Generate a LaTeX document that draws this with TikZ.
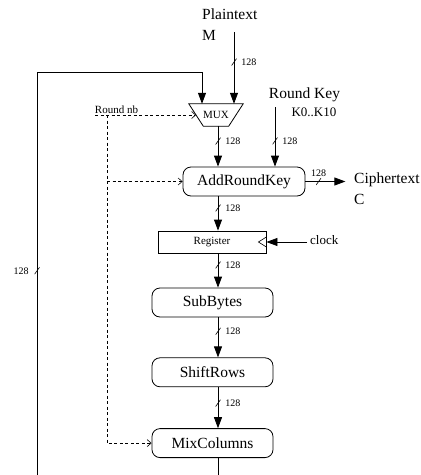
\documentclass[tikz,border=0pt]{standalone}
\usepackage{fontspec}
\setmainfont{Liberation Serif}
\usetikzlibrary{calc}
\usetikzlibrary{arrows.meta}
\usetikzlibrary{positioning}

\newcommand{\bigtxt}{\fontsize{15.5}{21.5}\selectfont}
\newcommand{\midtxt}{\fontsize{13}{15}\selectfont}
\newcommand{\smalltxt}{\fontsize{11}{13}\selectfont}
\newcommand{\tinytxt}{\fontsize{10}{12}\selectfont}

\tikzset{
  stage/.style={draw, rounded corners=8pt, line width=0.8pt, minimum width=121pt, minimum height=29pt, inner sep=0pt, font=\bigtxt},
  bus/.style={line width=0.8pt, -{Triangle[length=11pt,width=8pt]}},
  ctrl/.style={line width=0.6pt, dash pattern=on 3pt off 2.5pt, -{Straight Barb[length=4pt,width=7pt]}},
  tick/.style={inner sep=0pt, minimum width=5pt, minimum height=7pt,
    path picture={\draw[-, solid, line width=0.6pt] (path picture bounding box.south west) -- (path picture bounding box.north east);}},
  wlabel/.style={font=\tinytxt, inner sep=0pt},
}

\begin{document}
\begin{tikzpicture}[x=1pt, y=-1pt]
  \clip (0,0) rectangle (421,475);
  % texts at the ends
  \node[font=\bigtxt, align=left, anchor=north west, inner sep=0pt] (plain)  at (202,8.4)   {Plaintext\\M};
  \node[font=\bigtxt, anchor=base, inner sep=0pt]                   (rkey)   at (304.5,98.5) {Round Key};
  \node[font=\midtxt, anchor=base, inner sep=0pt]                   (kten)   at (314,116.5)  {K0..K10};
  \node[font=\bigtxt, align=left, anchor=north west, inner sep=0pt] (cipher) at (354,172.4) {Ciphertext\\C};
  \node[font=\smalltxt, anchor=base, inner sep=0pt]                 (rnb)    at (116.5,113.5) {Round nb};
  \node[font=\midtxt, anchor=base west, inner sep=0pt]              (clk)    at (310,244)    {clock};

  % blocks
  \node[minimum width=54pt, minimum height=22pt, inner sep=0pt, font=\smalltxt] (mux) at (216,115) {MUX};
  \draw[line width=0.8pt] (mux.north west) -- (mux.north east) -- ([xshift=-14.5pt]mux.south east)
       -- ([xshift=14.5pt]mux.south west) -- cycle;
  \node[stage, minimum width=122pt] (ark) at (244,181.5) {AddRoundKey};
  \node[draw, line width=0.8pt, minimum width=108pt, minimum height=22pt, inner sep=0pt, font=\smalltxt] (reg) at (212,242) {Register};
  \draw[line width=0.6pt] ([yshift=5pt]reg.east) -- ([xshift=-8pt]reg.east) -- ([yshift=-5pt]reg.east);
  \node[stage] (sub)   at (212.5,302.5)        {SubBytes};
  \node[stage] (shift) [below=40pt of sub]     {ShiftRows};
  \node[stage] (mix)   [below=41pt of shift]   {MixColumns};

  % helper points
  \coordinate (axis)    at (218,0);
  \coordinate (plainin) at (234,32);
  \coordinate (rkin)    at (275,107);
  \coordinate (ctout)   at ($(ark.east)+(40,0)$);
  \coordinate (rnin)    at (95,115);
  \coordinate (rnv)     at (107,115);
  \coordinate (loopb)   at (218,495);
  \coordinate (loopl)   at (37,495);
  \coordinate (loopt)   at (202,72);

  % data path
  \draw[bus] (plainin) -- node[tick, pos=0.42, label={[wlabel, label distance=4pt]right:128}] {} (plainin |- mux.north);
  \draw[bus] (mux.south -| axis) -- node[tick, pos=0.37, label={[wlabel, label distance=4pt]right:128}] {} (ark.north -| axis);
  \draw[bus] (rkin) -- node[tick, pos=0.57, label={[wlabel, label distance=4pt]right:128}] {} (rkin |- ark.north);
  \draw[bus] (ark.east) -- node[tick, pos=0.33, label={[wlabel, label distance=1pt]above:128}] {} (ctout);
  \draw[bus] (ark.south -| axis) -- node[tick, pos=0.34, label={[wlabel, label distance=4pt]right:128}] {} (reg.north -| axis);
  \draw[bus] (reg.south -| axis) -- node[tick, pos=0.34, label={[wlabel, label distance=4pt]right:128}] {} (sub.north -| axis);
  \draw[bus] (sub.south -| axis) -- node[tick, pos=0.35, label={[wlabel, label distance=4pt]right:128}] {} (shift.north -| axis);
  \draw[bus] (shift.south -| axis) -- node[tick, pos=0.39, label={[wlabel, label distance=4pt]right:128}] {} (mix.north -| axis);
  \draw[bus] (mix.south -| axis) -- (loopb) -- (loopl)
       -- node[tick, pos=0.53, label={[wlabel, label distance=5pt]left:128}] {} (loopl |- loopt)
       -- (loopt) -- (loopt |- mux.north);
  \draw[bus] ([xshift=-3pt]clk.base west |- reg.east) -- (reg.east);

  % round control
  \draw[ctrl] (rnin) -- ([xshift=7.25pt]mux.west);
  \draw[ctrl] (rnv) |- (mix.west);
  \draw[ctrl] (rnv |- ark.west) -- (ark.west);
\end{tikzpicture}
\end{document}
